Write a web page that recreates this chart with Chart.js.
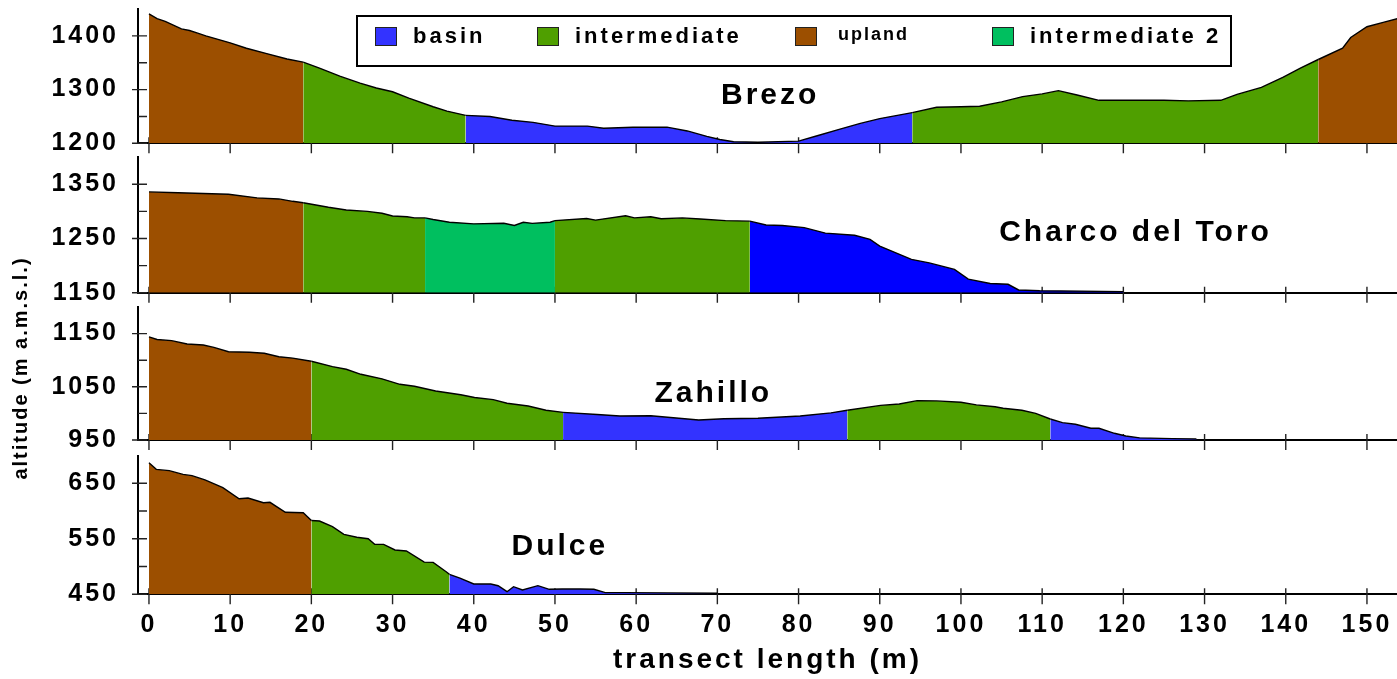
<!DOCTYPE html>
<html>
<head>
<meta charset="utf-8">
<script src="https://cdn.jsdelivr.net/npm/chart.js@4"></script>
<style>
  html, body { margin: 0; padding: 0; background: #fff; }
  #wrap { position: relative; width: 1397px; height: 679px; overflow: hidden; }
  #wrap canvas { position: absolute; left: 0; top: 0; }
</style>
</head>
<body>
<div id="wrap">
  <canvas id="brezo" width="1397" height="679"></canvas>
  <canvas id="charco" width="1397" height="679"></canvas>
  <canvas id="zahillo" width="1397" height="679"></canvas>
  <canvas id="dulce" width="1397" height="679"></canvas>
</div>
<script>
// zone legend
const zoneNames = ['basin', 'intermediate', 'upland', 'intermediate 2'];
const zoneColors = ['#3333ff', '#4f9f00', '#9c4f00', '#00bf5f'];

const xTicks = [0, 10, 20, 30, 40, 50, 60, 70, 80, 90, 100, 110, 120, 130, 140, 150];
const xTitle = 'transect length (m)';
const yTitle = 'altitude (m a.m.s.l.)';

// Brezo
const brezoDist = [0, 1, 2, 4, 5, 6, 7, 10, 12, 14.5, 17, 19,
  21, 23.5, 26, 28, 30, 32, 35, 36.7, 39,
  42, 44.7, 47.3, 50, 54, 56, 59.6, 63.8, 66.3, 68.7, 70.3, 72, 75, 80, 82.3, 85, 87.6, 90, 94,
  97, 100, 102.3, 105, 107.6, 110, 112, 114.3, 117, 121, 125, 128, 132, 134, 137, 139.7, 141.8, 144,
  147, 148, 150, 152, 154];
const brezoAlt = [1441, 1432, 1427, 1413, 1410, 1405, 1400, 1387, 1377, 1367, 1357, 1351,
  1340, 1325, 1312, 1303, 1296, 1284, 1268, 1260, 1252,
  1250, 1243, 1239, 1232, 1232, 1228, 1230, 1230, 1223, 1213, 1207, 1203, 1202, 1204, 1214, 1226, 1237, 1246, 1257,
  1267, 1268, 1269, 1277, 1287, 1292, 1298, 1290, 1280, 1280, 1280, 1279, 1280, 1291, 1304, 1323, 1340, 1356,
  1377, 1397, 1417, 1425, 1433];
const brezoBreaks = [19, 39, 94, 144];
const brezoZones = ['upland', 'intermediate', 'basin', 'intermediate', 'upland'];
const brezoYLabels = [1200, 1300, 1400];

// Charco del Toro
const charcoDist = [0, 3.6, 9.8, 13.3, 16, 17.7, 19,
  22.1, 24.3, 26.9, 28.7, 30, 31.8, 32.7, 34,
  35, 37, 40, 43.7, 45, 46.1, 47.2, 49.4, 50,
  53.9, 55, 58.7, 59.8, 61.8, 63.1, 65.7, 67.9, 71, 74,
  76, 78, 80.7, 83.3, 86.9, 88.8, 90, 93.9, 96.1, 99.2, 100.9, 103.6, 105.8, 107.1, 109.7, 120];
const charcoAlt = [1336, 1334.5, 1331.6, 1325, 1323, 1318.6, 1316,
  1307.6, 1302.6, 1300, 1296.5, 1291.5, 1290, 1288, 1288,
  1285, 1280, 1277, 1278, 1274, 1280, 1278, 1280, 1283,
  1287, 1284, 1292, 1288, 1290, 1286.5, 1288, 1286, 1283, 1282,
  1275, 1274, 1270, 1260, 1256, 1248.5, 1236, 1211.6, 1205, 1193, 1175, 1167, 1165.5, 1155, 1153.7, 1152];
const charcoBreaks = [19, 34, 50, 74];
const charcoZones = ['upland', 'intermediate', 'intermediate 2', 'intermediate', 'basin'];
const charcoYLabels = [1150, 1250, 1350];

// Zahillo
const zahilloDist = [0, 1, 2.8, 4.7, 6.7, 8, 9.8, 12.4, 14.2, 16, 17.7, 20,
  22.6, 24.3, 26.1, 28.7, 30.9, 32.7, 35.3, 38.4, 40.1, 42.4, 44.1, 46.7, 48.9, 51,
  55.2, 58, 61.8, 67.7, 70.8, 75, 80.2, 84, 86,
  90.1, 92.4, 94.6, 97, 100, 101.9, 104.2, 105.2, 107.5, 109.2, 111,
  112.5, 114.1, 116, 117, 118.9, 120.3, 122, 126, 129];
const zahilloAlt = [1144, 1139, 1136.7, 1130.5, 1128.6, 1124, 1116, 1115, 1113, 1106.6, 1104, 1098,
  1088, 1083, 1073.5, 1065, 1054.7, 1051, 1042, 1035, 1030, 1025.8, 1019, 1014, 1006, 1002,
  998, 995, 995.7, 987.6, 990, 991, 995, 1001, 1006,
  1015, 1017.7, 1024, 1023.5, 1021, 1016, 1012.6, 1009.6, 1005.8, 1000, 989.5,
  982.6, 979.5, 972, 972, 962.6, 957.5, 954, 952.5, 952];
const zahilloBreaks = [20, 51, 86, 111];
const zahilloZones = ['upland', 'intermediate', 'basin', 'intermediate', 'basin'];
const zahilloYLabels = [950, 1050, 1150];

// Dulce
const dulceDist = [0, 0.9, 2.5, 4.2, 5.3, 6.9, 9.1, 11.1, 12.2, 14.1, 14.9, 16.8, 19, 20,
  21, 22.6, 24, 25.6, 27, 27.8, 28.9, 30.3, 31.7, 33.9, 35, 36.6, 37,
  38.3, 40, 42.1, 43, 44.1, 44.9, 46, 47.9, 49.3, 50.9, 53.1, 54.8, 56.2, 58.6, 70];
const dulceAlt = [687, 675, 672.7, 666, 663.7, 656, 642, 622, 623.5, 615, 615.7, 597.7, 597, 583,
  582, 571.8, 558, 552.7, 550, 540, 540, 529.8, 528, 508, 507.6, 490.7, 486,
  479, 468.6, 468.6, 465.5, 454.7, 463.7, 457.7, 465.5, 459, 459.5, 459.5, 459, 453, 453, 452];
const dulceBreaks = [20, 37];
const dulceZones = ['upland', 'intermediate', 'basin'];
const dulceYLabels = [450, 550, 650];

const FONT = '"Liberation Sans", Arial, sans-serif';
Chart.defaults.font.family = FONT;
Chart.defaults.font.weight = 'bold';
Chart.defaults.color = '#000';

const xMin = -1.35, xMax = 153.7;

const panels = [
  { id: 'brezo', name: 'Brezo', dist: brezoDist, alt: brezoAlt, breaks: brezoBreaks, zones: brezoZones,
    yLabels: brezoYLabels, yMin: 1200, yMax: 1450, top: 9, bottom: 143.3, nameAt: [76.5, 1273] },
  { id: 'charco', name: 'Charco del Toro', dist: charcoDist, alt: charcoAlt, breaks: charcoBreaks, zones: charcoZones,
    yLabels: charcoYLabels, yMin: 1150, yMax: 1400, top: 157.2, bottom: 292.7, nameAt: [121.5, 1245], basin: '#0000ff' },
  { id: 'zahillo', name: 'Zahillo', dist: zahilloDist, alt: zahilloAlt, breaks: zahilloBreaks, zones: zahilloZones,
    yLabels: zahilloYLabels, yMin: 950, yMax: 1200, top: 307, bottom: 440, nameAt: [69.5, 1022] },
  { id: 'dulce', name: 'Dulce', dist: dulceDist, alt: dulceAlt, breaks: dulceBreaks, zones: dulceZones,
    yLabels: dulceYLabels, yMin: 450, yMax: 700, top: 455.5, bottom: 594.3, nameAt: [50.6, 521] }
];

function splitZones(p) {
  const edges = [-Infinity, ...p.breaks, Infinity];
  return p.zones.map((z, i) => {
    const pts = [];
    p.dist.forEach((d, j) => {
      if (d >= edges[i] && d <= edges[i + 1]) pts.push({ x: d, y: p.alt[j] });
    });
    return { zone: z, pts };
  });
}

// letter spacing for all canvas text (the original uses wide tracking)
const spacing = {
  id: 'spacing',
  beforeUpdate(c) { c.ctx.letterSpacing = '3px'; },
  beforeDraw(c) { c.ctx.letterSpacing = '3px'; }
};

// tick marks: x ticks cross the axis, y ticks point into the plot
const tickMarks = {
  id: 'tickMarks',
  beforeDatasetsDraw(chart) {
    const { ctx, chartArea: a, scales: { x, y } } = chart;
    ctx.save();
    ctx.strokeStyle = '#222';
    ctx.lineWidth = 1.4;
    ctx.beginPath();
    x.ticks.forEach(t => {
      const px = x.getPixelForValue(t.value);
      ctx.moveTo(px, a.bottom - 6);
      ctx.lineTo(px, a.bottom + 10);
    });
    y.ticks.forEach(t => {
      const py = y.getPixelForValue(t.value);
      const major = chart.options.plugins.panelName.yLabels.includes(t.value);
      ctx.moveTo(a.left - (major ? 6 : 0), py);
      ctx.lineTo(a.left + 9, py);
    });
    ctx.stroke();
    ctx.restore();
  }
};

const panelName = {
  id: 'panelName',
  afterDatasetsDraw(chart, args, opts) {
    const { ctx, scales: { x, y } } = chart;
    ctx.save();
    ctx.letterSpacing = '3px';
    ctx.font = 'bold 30px ' + FONT;
    ctx.fillStyle = '#000';
    ctx.textAlign = 'center';
    ctx.textBaseline = 'alphabetic';
    ctx.fillText(opts.text, x.getPixelForValue(opts.at[0]), y.getPixelForValue(opts.at[1]));
    ctx.restore();
  }
};

// boxed legend on top of the first panel
const legendBox = { left: 357, top: 16, right: 1231, bottom: 66 };
const legendSwatchX = [375, 537, 795, 992];
const legendTextX = [413, 575, 838, 1030];
const zoneLegend = {
  id: 'zoneLegend',
  afterDraw(chart) {
    const ctx = chart.ctx;
    ctx.save();
    ctx.fillStyle = '#fff';
    ctx.fillRect(legendBox.left, legendBox.top, legendBox.right - legendBox.left, legendBox.bottom - legendBox.top);
    ctx.strokeStyle = '#000';
    ctx.lineWidth = 2;
    ctx.strokeRect(legendBox.left, legendBox.top, legendBox.right - legendBox.left, legendBox.bottom - legendBox.top);
    zoneNames.forEach((name, i) => {
      ctx.fillStyle = zoneColors[i];
      ctx.fillRect(legendSwatchX[i], 27, 21, 18);
      ctx.lineWidth = 1;
      ctx.strokeStyle = '#222';
      ctx.strokeRect(legendSwatchX[i] + 0.5, 27.5, 21, 18);
      ctx.fillStyle = '#000';
      ctx.textAlign = 'left';
      ctx.textBaseline = 'alphabetic';
      const small = name === 'upland';
      ctx.letterSpacing = small ? '2px' : '3px';
      ctx.font = 'bold ' + (small ? 18 : 22) + 'px ' + FONT;
      ctx.fillText(name, legendTextX[i], small ? 40 : 43);
    });
    ctx.restore();
  }
};

const sideTitle = {
  id: 'sideTitle',
  afterDraw(chart) {
    const ctx = chart.ctx;
    ctx.save();
    ctx.letterSpacing = '2px';
    ctx.font = 'bold 20px ' + FONT;
    ctx.fillStyle = '#000';
    ctx.translate(21, 368);
    ctx.rotate(-Math.PI / 2);
    ctx.textAlign = 'center';
    ctx.textBaseline = 'middle';
    ctx.fillText(yTitle, 0, 0);
    ctx.restore();
  }
};

panels.forEach((p, idx) => {
  const last = idx === panels.length - 1;
  const segs = splitZones(p);
  const extra = [];
  if (idx === 0) extra.push(zoneLegend);
  if (idx === 2) extra.push(sideTitle);
  new Chart(document.getElementById(p.id), {
    type: 'line',
    data: {
      datasets: segs.map(s => ({
        label: s.zone,
        data: s.pts,
        fill: 'start',
        backgroundColor: (s.zone === 'basin' && p.basin) ? p.basin : zoneColors[zoneNames.indexOf(s.zone)],
        borderColor: '#000',
        borderWidth: 1.4,
        pointRadius: 0,
        tension: 0
      }))
    },
    options: {
      responsive: false,
      animation: false,
      events: [],
      layout: { padding: { top: p.top, bottom: last ? 0 : 679 - p.bottom, left: 0, right: 0 } },
      scales: {
        x: {
          type: 'linear',
          min: xMin,
          max: xMax,
          afterBuildTicks: s => { s.ticks = xTicks.map(v => ({ value: v })); },
          afterFit: s => { s.height = last ? 679 - p.bottom : 0; s.paddingLeft = 0; s.paddingRight = 0; },
          grid: { display: false, drawTicks: false },
          border: { display: true, color: '#000', width: 2 },
          ticks: { display: last, autoSkip: false, maxRotation: 0, padding: 16, font: { size: 25, weight: 'bold' } },
          title: { display: last, text: xTitle, font: { size: 28, weight: 'bold' }, padding: { top: 0, bottom: 2 } }
        },
        y: {
          min: p.yMin,
          max: p.yMax,
          afterBuildTicks: s => {
            const t = [];
            p.yLabels.forEach(v => { t.push({ value: v }); if (v + 50 < p.yMax) t.push({ value: v + 50 }); });
            s.ticks = t;
          },
          afterFit: s => { s.width = 138; s.paddingTop = 0; s.paddingBottom = 0; },
          grid: { display: false, drawTicks: false },
          border: { display: true, color: '#000', width: 2 },
          ticks: {
            autoSkip: false,
            padding: 19,
            font: { size: 25, weight: 'bold' },
            callback: v => p.yLabels.includes(v) ? String(v) : ''
          }
        }
      },
      plugins: {
        legend: { display: false },
        tooltip: { enabled: false },
        panelName: { text: p.name, at: p.nameAt, yLabels: p.yLabels }
      }
    },
    plugins: [spacing, tickMarks, panelName, ...extra]
  });
});
</script>
</body>
</html>
